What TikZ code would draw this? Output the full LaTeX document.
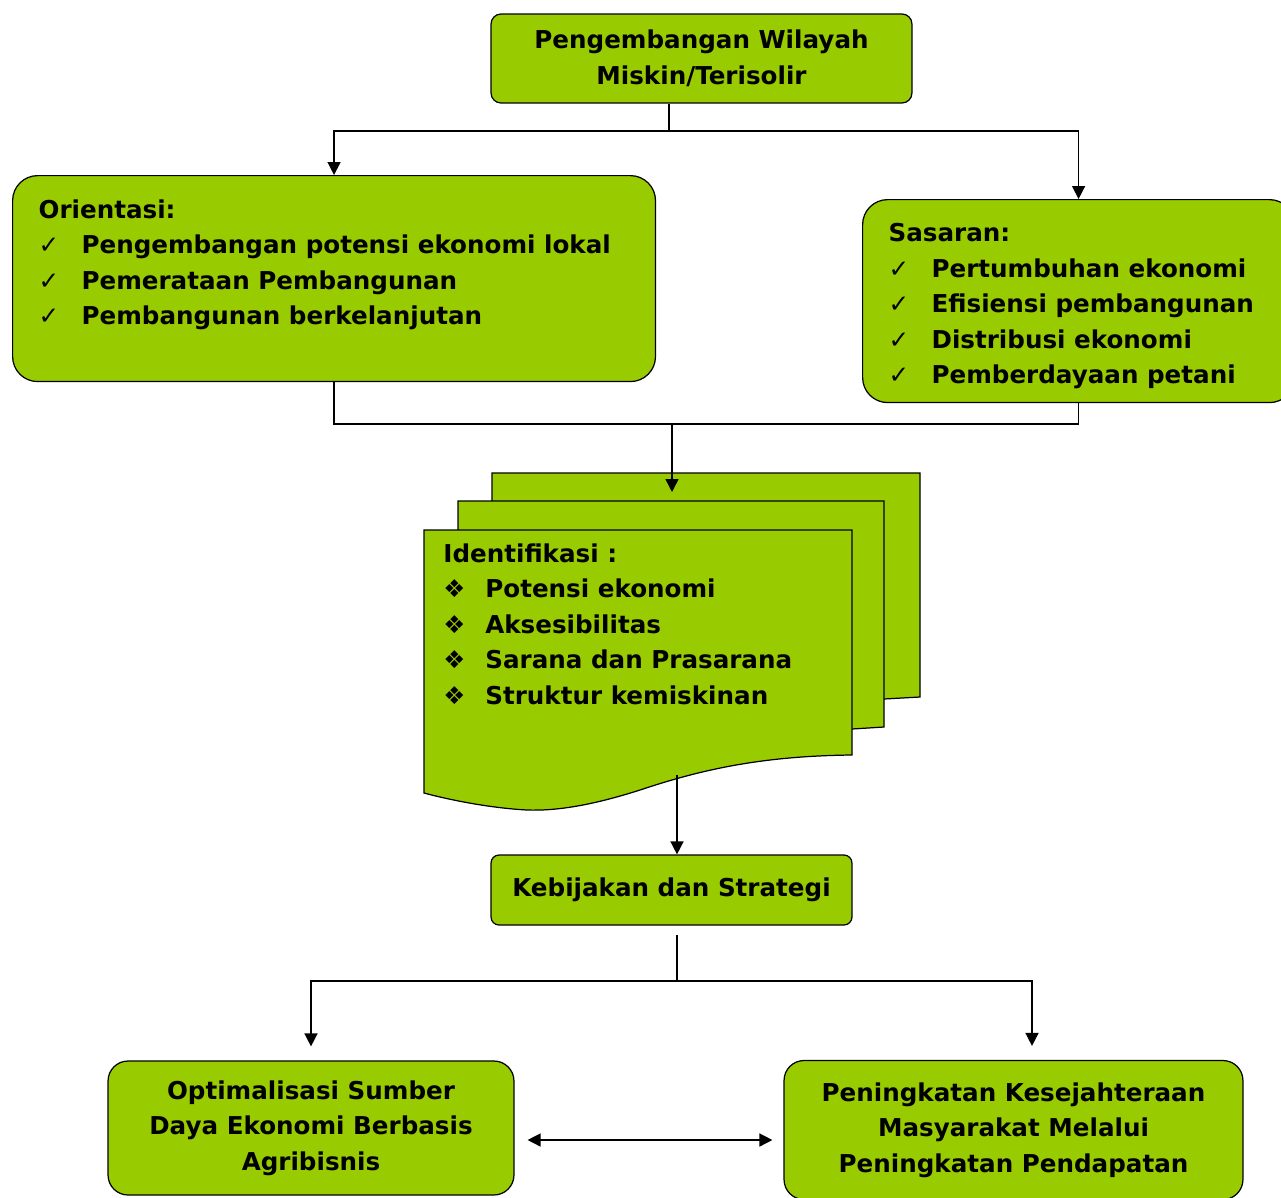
\documentclass[tikz,border=0pt]{standalone}
\usepackage{fontspec}
\setmainfont{DejaVu Sans}
\usetikzlibrary{arrows.meta,positioning}
\definecolor{leaf}{HTML}{99CC00}
\newcommand{\tick}[1]{\makebox[0.86cm][l]{\mdseries ✓}#1}
\newcommand{\diam}[1]{\makebox[0.84cm][l]{\mdseries ❖}#1}
\tikzset{
  green/.style={draw, fill=leaf, line width=0.7pt, font=\fontsize{14pt}{20.2pt}\selectfont\bfseries},
  box/.style={green, align=center},
  listbox/.style={green, rounded corners=0.5cm, anchor=north west, inner xsep=0.52cm, inner ysep=0.48cm},
  page/.style={draw, fill=leaf, line width=0.7pt},
  wire/.style={line width=0.85pt},
  arr/.style={wire, -{Triangle[length=0.26cm,width=0.26cm]}},
}
\begin{document}
\begin{tikzpicture}[x=0.02cm,y=-0.02cm]
\useasboundingbox (0,0) rectangle (1281,1197);
\clip (0,0) rectangle (1281,1197);

% boxes
\node[box, rounded corners=0.2cm, minimum width=8.42cm, minimum height=1.78cm] (wilayah) at (701.5,58.5) {Pengembangan Wilayah\\Miskin/Terisolir};
\node[listbox] (orientasi) at (12,175) {\begin{minipage}[t][3.16cm][t]{11.82cm}
Orientasi:\\
\tick{Pengembangan potensi ekonomi lokal}\\
\tick{Pemerataan Pembangunan}\\
\tick{Pembangunan berkelanjutan}
\end{minipage}};
\node[listbox] (sasaran) at (862,199) {\begin{minipage}[t][3.1cm][t]{7.6cm}
Sasaran:\\
\tick{Pertumbuhan ekonomi}\\
\tick{Efisiensi pembangunan}\\
\tick{Distribusi ekonomi}\\
\tick{Pemberdayaan petani}
\end{minipage}};

% stacked pages
\draw[page] (492,473) -- (920,473) -- (920,697) -- (884,699) -- (492,710) -- cycle;
\draw[page] (458,501) -- (884,501) -- (884,727) -- (852,729) -- (458,740) -- cycle;
\draw[page] (424,530) -- (852,530) -- (852,755)
  .. controls (760,756) and (700,770) .. (640,790)
  .. controls (590,806) and (555,811) .. (527,810)
  .. controls (490,808) and (450,800) .. (424,793) -- cycle;
\node[anchor=north west, inner sep=0pt, align=left, font=\fontsize{14pt}{20.2pt}\selectfont\bfseries] (identifikasi) at (443,543) {Identifikasi :\\
\diam{Potensi ekonomi}\\
\diam{Aksesibilitas}\\
\diam{Sarana dan Prasarana}\\
\diam{Struktur kemiskinan}};

\node[box, rounded corners=0.16cm, minimum width=7.22cm, minimum height=1.4cm] (kebijakan) at (671.5,890) {Kebijakan dan Strategi};
\node[box, rounded corners=0.4cm, minimum width=8.12cm, minimum height=2.68cm] (optimal) at (311,1128) {Optimalisasi Sumber\\Daya Ekonomi Berbasis\\Agribisnis};
\node[box, rounded corners=0.4cm, minimum width=9.18cm, minimum height=2.78cm] (sejahtera) at (1013.5,1130) {Peningkatan Kesejahteraan\\Masyarakat Melalui\\Peningkatan Pendapatan};

% connectors
\coordinate (j1) at (669,131);
\draw[wire] (wilayah.south -| j1) -- (j1);
\draw[arr] (j1) -| (orientasi.north);
\draw[arr] (j1) -| (sasaran.north);

\coordinate (j2) at (672,424);
\coordinate (docin) at (672,492);
\draw[wire] (orientasi.south) |- (j2) -| (sasaran.south);
\draw[arr] (j2) -- (docin);

\coordinate (docout) at (677,775);
\draw[arr] (docout) -- (docout |- kebijakan.north);

\coordinate (kebout) at (677,935);
\coordinate (j3) at (677,981);
\draw[wire] (kebout) -- (j3);
\draw[arr, shorten >=0.28cm] (j3) -| (optimal.north);
\draw[arr, shorten >=0.28cm] (j3) -| ([xshift=0.37cm]sejahtera.north);

\draw[wire, {Triangle[length=0.26cm,width=0.26cm]}-{Triangle[length=0.26cm,width=0.26cm]}]
  ([shift={(13,12)}]optimal.east) -- ([shift={(-11,10)}]sejahtera.west);
\end{tikzpicture}
\end{document}
